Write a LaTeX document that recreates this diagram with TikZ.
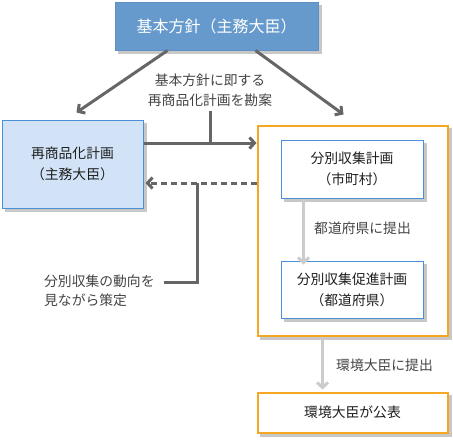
\documentclass[tikz,border=0pt]{standalone}
\usepackage{fontspec}
\setmainfont{Noto Sans CJK JP}
\usetikzlibrary{arrows.meta}
\pgfdeclarelayer{bg}
\pgfdeclarelayer{mid}
\pgfsetlayers{bg,mid,main}
\definecolor{topblue}{HTML}{6699CC}
\definecolor{topborder}{HTML}{5E90C6}
\definecolor{lblue}{HTML}{D2E3F7}
\definecolor{bborder}{HTML}{4A90D9}
\definecolor{orng}{HTML}{F5A623}
\definecolor{dgray}{HTML}{666666}
\definecolor{lgray}{HTML}{CCCCCC}
\definecolor{shd}{HTML}{C8C8C8}
\definecolor{txt}{HTML}{1E1E1E}
\definecolor{ltxt}{HTML}{444444}
\begin{document}
\begin{tikzpicture}[x=1pt,y=-1pt,
  box/.style={rectangle, inner sep=0pt, align=center, text=txt,
    font=\fontsize{13.8}{21}\selectfont},
  topbox/.style={box, fill=topblue, draw=topborder, line width=1pt, text=white,
    font=\fontsize{16}{20}\selectfont},
  bluebox/.style={box, fill=lblue, draw=bborder, line width=1pt},
  innerbox/.style={box, fill=white, draw=bborder, line width=1pt},
  orangebox/.style={box, fill=white, draw=orng, line width=2pt},
  shadowfill/.style={fill=shd},
  lbl/.style={align=center, text=ltxt, inner sep=0pt, font=\fontsize{13.8}{20}\selectfont},
  lbll/.style={align=left, text=ltxt, inner sep=0pt, font=\fontsize{13.8}{19}\selectfont},
  darrow/.style={draw=dgray, line width=3pt, -{Straight Barb[length=5pt,width=11pt]}},
  dline/.style={draw=dgray, line width=3pt},
  dasharrow/.style={draw=dgray, line width=3pt, dash pattern=on 6pt off 4pt,
    -{Straight Barb[length=5pt,width=11pt]}},
  garrow/.style={draw=lgray, line width=3pt, -{Straight Barb[length=5pt,width=11pt]}}
]
\useasboundingbox (0,0) rectangle (453,440);

\node[topbox, minimum width=203pt, minimum height=48pt] (top) at (216.5,26) {基本方針（主務大臣）};
\node[bluebox, minimum width=141pt, minimum height=88pt] (left) at (72.5,164) {再商品化計画\\（主務大臣）};
\begin{pgfonlayer}{mid}
\node[orangebox, minimum width=190pt, minimum height=210pt] (org) at (352.5,230.5) {};
\end{pgfonlayer}
\node[innerbox, minimum width=142pt, minimum height=58pt] (in1) at (352,169) {分別収集計画\\（市町村）};
\node[innerbox, minimum width=142pt, minimum height=57pt] (in2) at (352,289.5) {分別収集促進計画\\（都道府県）};
\node[orangebox, minimum width=190pt, minimum height=40pt] (pub) at (352.5,412.5) {環境大臣が公表};

\begin{pgfonlayer}{bg}
  \foreach \n in {top,left,org,pub}{
    \fill[shadowfill] ([shift={(3pt,-3pt)}]\n.south west) rectangle ([shift={(3pt,-3pt)}]\n.north east);
  }
\end{pgfonlayer}
\begin{pgfonlayer}{mid}
  \foreach \n in {in1,in2}{
    \fill[shadowfill] ([shift={(3pt,-3pt)}]\n.south west) rectangle ([shift={(3pt,-3pt)}]\n.north east);
  }
\end{pgfonlayer}

\node[lbl] (lab1) at (210,90) {基本方針に即する\\再商品化計画を勘案};
\node[lbll, anchor=west] (lab2) at (44,291) {分別収集の動向を\\見ながら策定};
\node[lbl, anchor=west] (lab3) at (314,228) {都道府県に提出};
\node[lbl, anchor=west] (lab4) at (336,365) {環境大臣に提出};

% arrows from top box
\draw[darrow] ([xshift=53pt]top.south west) -- ([xshift=75pt,yshift=7pt]left.north west);
\draw[darrow] ([xshift=-63pt]top.south east) -- ([xshift=-105pt,yshift=10pt]org.north east);

% horizontal arrow and its label line
\draw[darrow] ([yshift=21pt]left.east) coordinate (h1) -- (h1 -| org.west);
\draw[dline] ([yshift=-4pt]lab1.south) -- (lab1.south |- h1);

% dashed arrow back
\coordinate (d1) at ([yshift=-19pt]left.east);
\draw[dasharrow] (d1 -| org.west) -- ([xshift=2pt]d1);
\coordinate (j) at (197,183);
\draw[dline] (j) |- ([xshift=9pt,yshift=9pt]lab2.east);

% light gray arrows
\draw[garrow] ([xshift=23pt,yshift=-1pt]in1.south west) coordinate (g1) -- (g1 |- in2.north) -- ++(0,-4pt);
\draw[garrow] ([xshift=66pt,yshift=-2pt]org.south west) coordinate (g2) -- ([yshift=2pt]g2 |- pub.north);
\end{tikzpicture}
\end{document}
